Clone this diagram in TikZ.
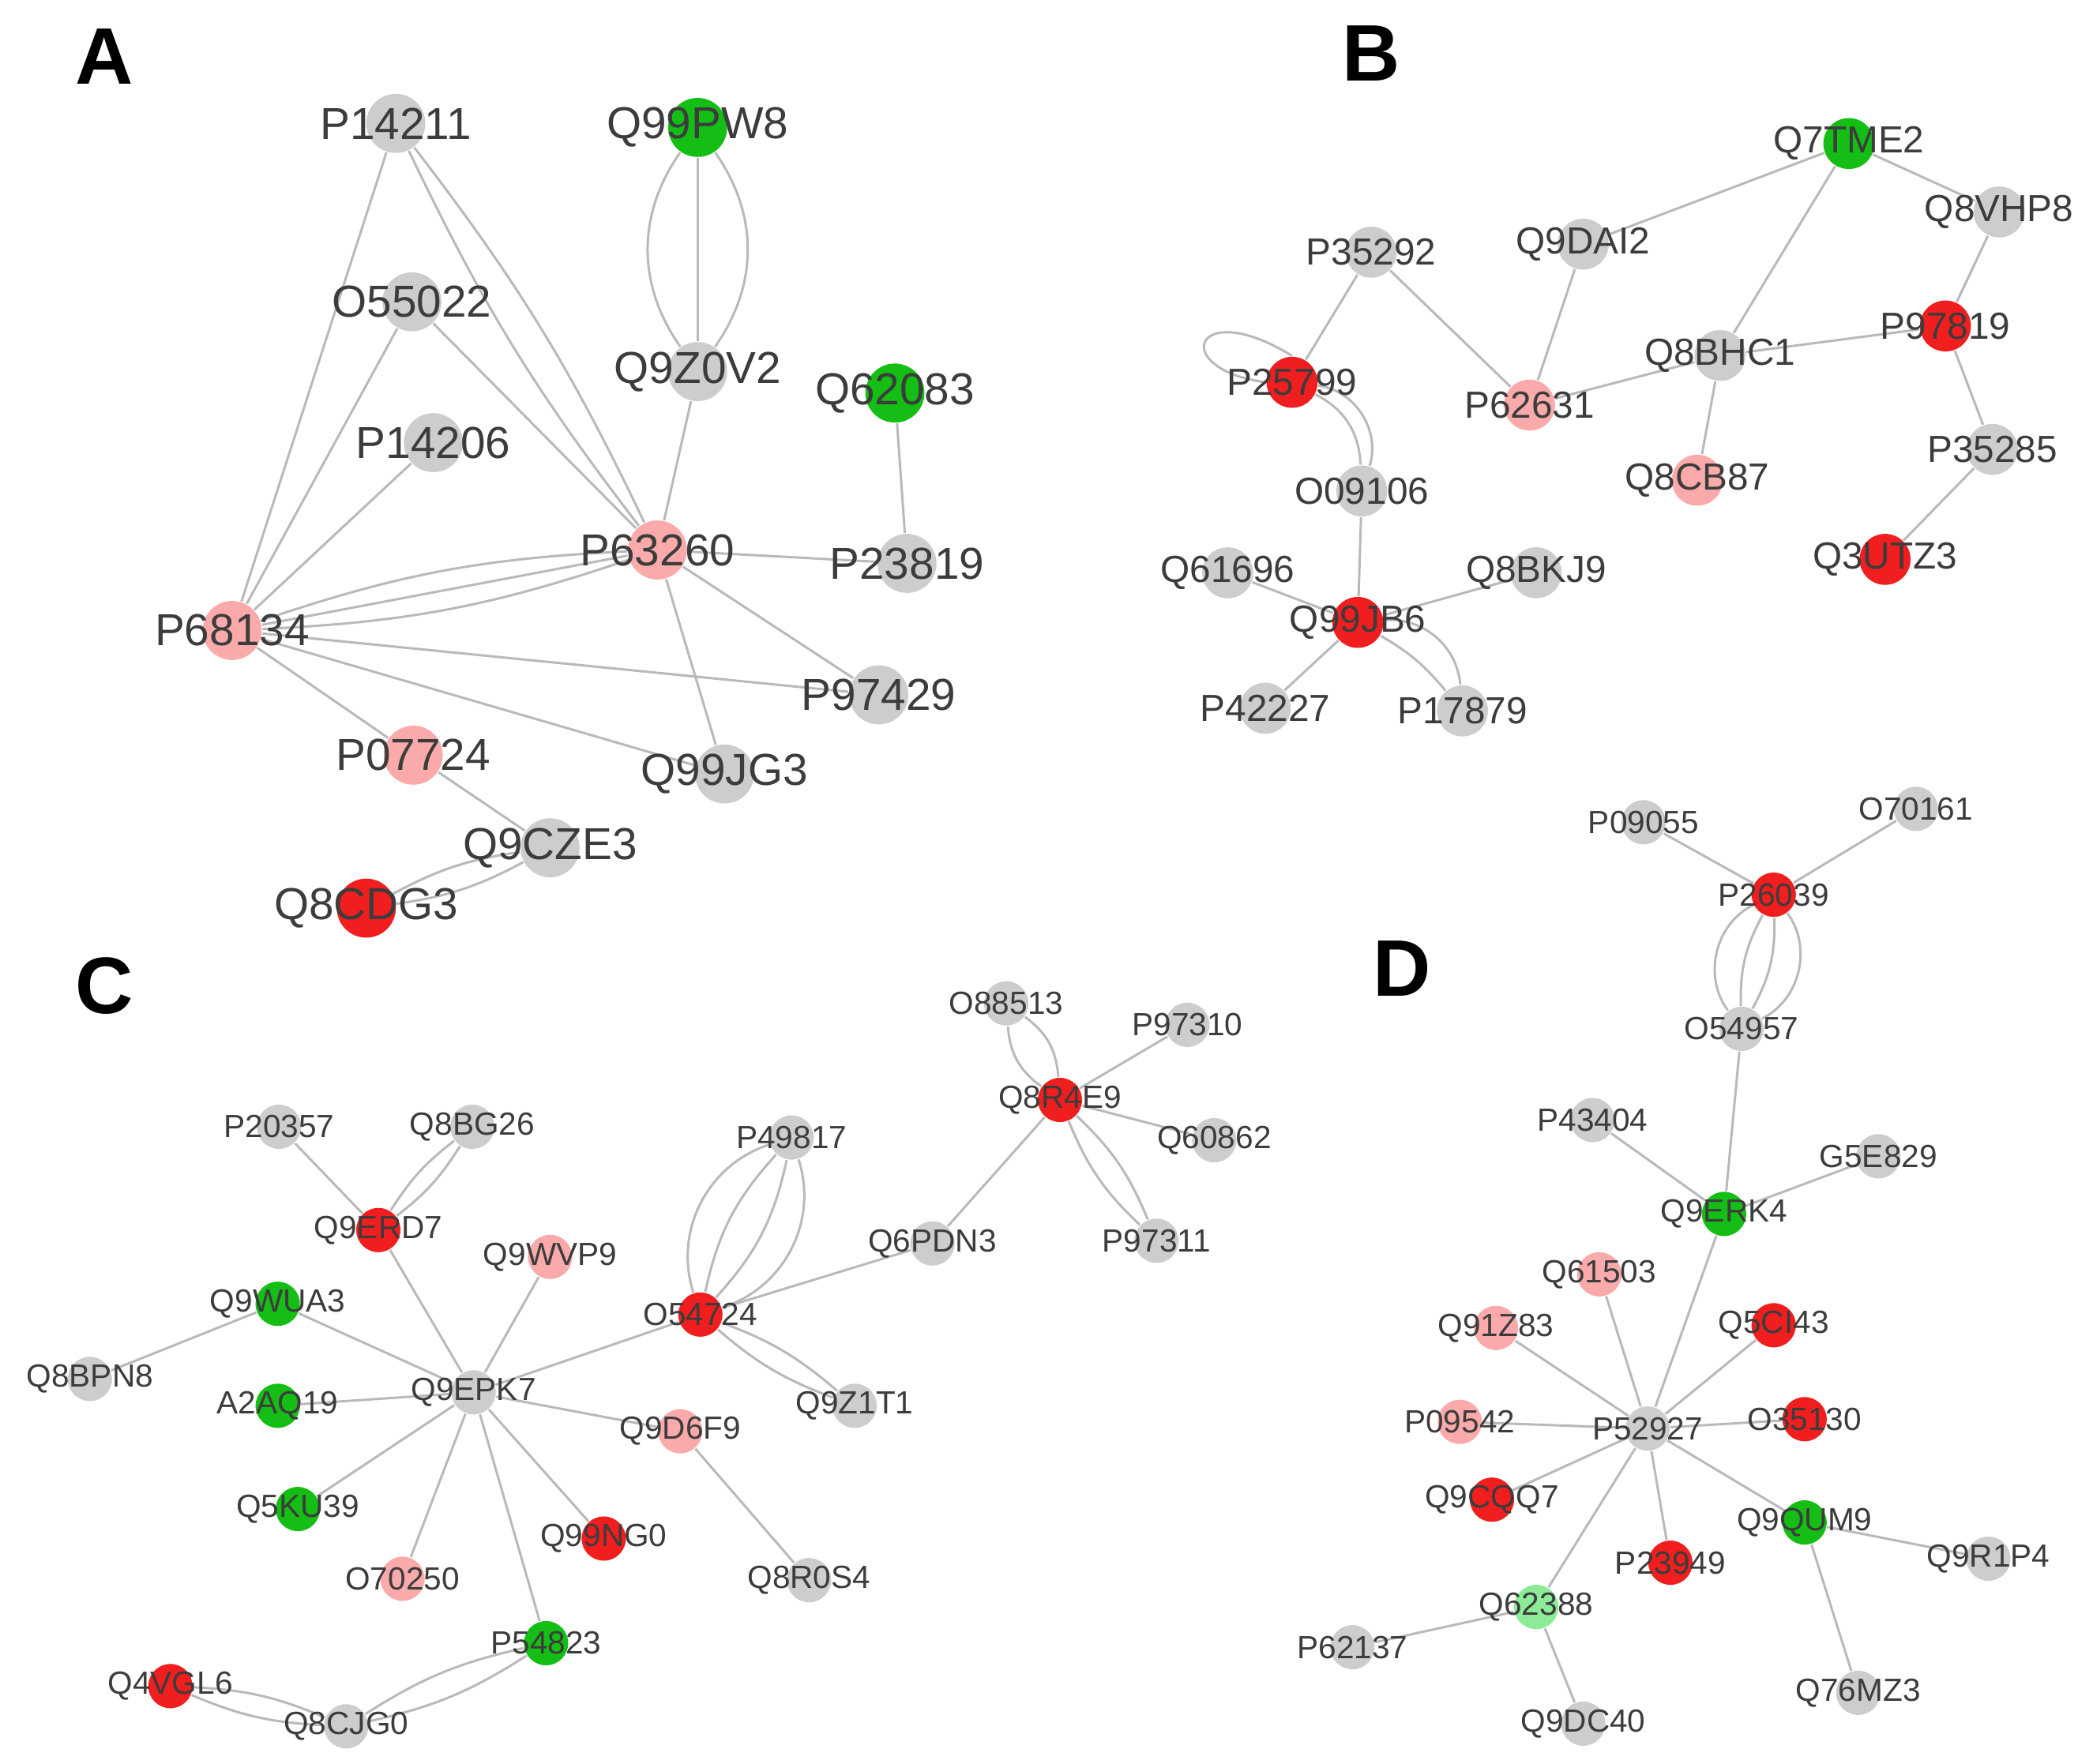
\documentclass[tikz,border=0pt]{standalone}
\usepackage{fontspec}
\setmainfont{Liberation Sans}
\usetikzlibrary{backgrounds}
\definecolor{gn}{RGB}{205,205,205}
\definecolor{pk}{RGB}{250,170,170}
\definecolor{rd}{RGB}{240,30,30}
\definecolor{grn}{RGB}{20,190,20}
\definecolor{lgr}{RGB}{140,235,150}
\definecolor{edg}{RGB}{185,185,185}
\definecolor{txt}{RGB}{60,60,60}
\tikzset{e/.style={draw=edg,line width=0.5pt},
 pA/.style={circle,inner sep=0pt,minimum size=0.44cm},
 pB/.style={circle,inner sep=0pt,minimum size=0.38cm},
 pC/.style={circle,inner sep=0pt,minimum size=0.33cm},
 panel/.style={font=\bfseries\fontsize{17}{17}\selectfont}}
\newcommand{\pn}[5]{\node[#5,fill=#4] (#1) at (#2/100,-#3/100) {};}
\newcommand{\lb}[2]{\node[text=txt,font=\fontsize{#2}{#2}\selectfont,inner sep=0] at (#1) {#1};}
\begin{document}
\begin{tikzpicture}
\useasboundingbox (0,0) rectangle (15.6,-13.15);
\node[panel] at (0.78,-0.42) {A};
\node[panel] at (10.22,-0.40) {B};
\node[panel] at (0.78,-7.35) {C};
\node[panel] at (10.45,-7.22) {D};
% A
\pn{P14211}{295}{92}{gn}{pA}\pn{Q99PW8}{520}{95}{grn}{pA}\pn{O55022}{307}{225}{gn}{pA}
\pn{Q9Z0V2}{520}{277}{gn}{pA}\pn{Q62083}{667}{293}{grn}{pA}\pn{P14206}{323}{330}{gn}{pA}
\pn{P63260}{490}{410}{pk}{pA}\pn{P23819}{676}{420}{gn}{pA}\pn{P68134}{173}{470}{pk}{pA}
\pn{P97429}{655}{518}{gn}{pA}\pn{P07724}{308}{563}{pk}{pA}\pn{Q99JG3}{540}{577}{gn}{pA}
\pn{Q9CZE3}{410}{632}{gn}{pA}\pn{Q8CDG3}{273}{677}{rd}{pA}
% B
\pn{Q7TME2}{1378}{107}{grn}{pB}\pn{Q8VHP8}{1490}{158}{gn}{pB}\pn{P35292}{1022}{188}{gn}{pB}
\pn{Q9DAI2}{1180}{182}{gn}{pB}\pn{P25799}{963}{285}{rd}{pB}\pn{P62631}{1140}{302}{pk}{pB}
\pn{Q8BHC1}{1282}{265}{gn}{pB}\pn{P97819}{1450}{243}{rd}{pB}\pn{Q8CB87}{1265}{358}{pk}{pB}
\pn{P35285}{1485}{335}{gn}{pB}\pn{O09106}{1015}{366}{gn}{pB}\pn{Q3UTZ3}{1405}{417}{rd}{pB}
\pn{Q61696}{915}{427}{gn}{pB}\pn{Q8BKJ9}{1145}{427}{gn}{pB}\pn{Q99JB6}{1012}{464}{rd}{pB}
\pn{P42227}{943}{528}{gn}{pB}\pn{P17879}{1090}{530}{gn}{pB}
% C
\pn{O88513}{750}{748}{gn}{pC}\pn{P97310}{885}{764}{gn}{pC}\pn{Q8R4E9}{790}{820}{rd}{pC}
\pn{Q60862}{905}{850}{gn}{pC}\pn{P20357}{208}{840}{gn}{pC}\pn{Q8BG26}{352}{840}{gn}{pC}
\pn{P49817}{590}{848}{gn}{pC}\pn{P97311}{862}{925}{gn}{pC}\pn{Q9ERD7}{282}{917}{rd}{pC}
\pn{Q9WVP9}{410}{937}{pk}{pC}\pn{Q6PDN3}{695}{927}{gn}{pC}\pn{Q9WUA3}{207}{972}{grn}{pC}
\pn{O54724}{522}{980}{rd}{pC}\pn{Q8BPN8}{67}{1028}{gn}{pC}\pn{A2AQ19}{207}{1048}{grn}{pC}
\pn{Q9EPK7}{353}{1038}{gn}{pC}\pn{Q9Z1T1}{637}{1048}{gn}{pC}\pn{Q9D6F9}{507}{1067}{pk}{pC}
\pn{Q5KU39}{222}{1125}{grn}{pC}\pn{Q99NG0}{450}{1147}{rd}{pC}\pn{O70250}{300}{1177}{pk}{pC}
\pn{Q8R0S4}{603}{1178}{gn}{pC}\pn{P54823}{407}{1225}{grn}{pC}\pn{Q4VGL6}{127}{1257}{rd}{pC}
\pn{Q8CJG0}{258}{1287}{gn}{pC}
% D
\pn{P09055}{1225}{613}{gn}{pC}\pn{O70161}{1428}{603}{gn}{pC}\pn{P26039}{1322}{667}{rd}{pC}
\pn{O54957}{1298}{767}{gn}{pC}\pn{P43404}{1187}{835}{gn}{pC}\pn{G5E829}{1400}{862}{gn}{pC}
\pn{Q9ERK4}{1285}{905}{grn}{pC}\pn{Q61503}{1192}{950}{pk}{pC}\pn{Q91Z83}{1115}{990}{pk}{pC}
\pn{Q5CI43}{1322}{988}{rd}{pC}\pn{P09542}{1088}{1060}{pk}{pC}\pn{P52927}{1228}{1065}{gn}{pC}
\pn{O35130}{1345}{1058}{rd}{pC}\pn{Q9CQQ7}{1112}{1118}{rd}{pC}\pn{Q9QUM9}{1345}{1135}{grn}{pC}
\pn{P23949}{1245}{1165}{rd}{pC}\pn{Q9R1P4}{1482}{1162}{gn}{pC}\pn{Q62388}{1145}{1198}{lgr}{pC}
\pn{P62137}{1008}{1228}{gn}{pC}\pn{Q9DC40}{1180}{1285}{gn}{pC}\pn{Q76MZ3}{1385}{1262}{gn}{pC}
\begin{scope}[on background layer]
\fill[white] (0,0) rectangle (15.6,-13.15);
% A edges
\draw[e] (P14211)--(P68134);
\draw[e] (P14211) to[bend left=6] (P63260);
\draw[e] (P14211) to[bend right=6] (P63260);
\draw[e] (O55022)--(P68134); \draw[e] (O55022)--(P63260);
\draw[e] (P14206)--(P68134);
\draw[e] (P68134)--(P63260);
\draw[e] (P68134) to[bend left=8] (P63260);
\draw[e] (P68134) to[bend right=8] (P63260);
\draw[e] (Q99PW8)--(Q9Z0V2);
\draw[e] (Q99PW8) to[bend left=35] (Q9Z0V2);
\draw[e] (Q99PW8) to[bend right=35] (Q9Z0V2);
\draw[e] (Q9Z0V2)--(P63260); \draw[e] (Q62083)--(P23819);
\draw[e] (P63260)--(P23819); \draw[e] (P63260)--(P97429); \draw[e] (P63260)--(Q99JG3);
\draw[e] (P68134)--(P97429); \draw[e] (P68134)--(Q99JG3); \draw[e] (P68134)--(P07724);
\draw[e] (P07724)--(Q9CZE3);
\draw[e] (Q9CZE3) to[bend left=10] (Q8CDG3); \draw[e] (Q9CZE3) to[bend right=10] (Q8CDG3);
% B edges
\draw[e] (Q7TME2)--(Q9DAI2); \draw[e] (Q7TME2)--(Q8VHP8); \draw[e] (Q7TME2)--(Q8BHC1);
\draw[e] (Q8VHP8)--(P97819); \draw[e] (P97819)--(Q8BHC1); \draw[e] (P97819)--(P35285);
\draw[e] (P35285)--(Q3UTZ3); \draw[e] (Q8BHC1)--(P62631); \draw[e] (Q8BHC1)--(Q8CB87);
\draw[e] (Q9DAI2)--(P62631); \draw[e] (P35292)--(P62631); \draw[e] (P35292)--(P25799);
\draw[e] (P25799.west) .. controls (8.7,-2.75) and (8.9,-2.2) .. (P25799.north);
\draw[e] (P25799) to[bend left=30] (O09106); \draw[e] (P25799) to[bend left=50] (O09106);
\draw[e] (O09106)--(Q99JB6); \draw[e] (Q99JB6)--(Q61696); \draw[e] (Q99JB6)--(Q8BKJ9);
\draw[e] (Q99JB6)--(P42227);
\draw[e] (Q99JB6) to[bend left=10] (P17879); \draw[e] (Q99JB6) to[bend left=45] (P17879);
% C edges
\draw[e] (O88513) to[bend left=25] (Q8R4E9); \draw[e] (O88513) to[bend right=25] (Q8R4E9);
\draw[e] (P97310)--(Q8R4E9); \draw[e] (Q60862)--(Q8R4E9);
\draw[e] (P97311) to[bend left=12] (Q8R4E9); \draw[e] (P97311) to[bend right=12] (Q8R4E9);
\draw[e] (Q8R4E9)--(Q6PDN3); \draw[e] (Q6PDN3)--(O54724);
\draw[e] (P49817) to[bend left=15] (O54724); \draw[e] (P49817) to[bend right=15] (O54724);
\draw[e] (P49817) to[bend left=45] (O54724); \draw[e] (P49817) to[bend right=45] (O54724);
\draw[e] (O54724) to[bend left=10] (Q9Z1T1); \draw[e] (O54724) to[bend right=10] (Q9Z1T1);
\draw[e] (O54724)--(Q9EPK7); \draw[e] (P20357)--(Q9ERD7);
\draw[e] (Q8BG26) to[bend left=10] (Q9ERD7); \draw[e] (Q8BG26) to[bend right=10] (Q9ERD7);
\foreach \n in {Q9ERD7,Q9WVP9,Q9WUA3,A2AQ19,Q5KU39,Q9D6F9,Q99NG0,O70250,P54823}
  \draw[e] (\n)--(Q9EPK7);
\draw[e] (Q8BPN8)--(Q9WUA3); \draw[e] (Q9D6F9)--(Q8R0S4);
\draw[e] (P54823) to[bend left=10] (Q8CJG0); \draw[e] (P54823) to[bend right=10] (Q8CJG0);
\draw[e] (Q8CJG0) to[bend left=10] (Q4VGL6); \draw[e] (Q8CJG0) to[bend right=10] (Q4VGL6);
% D edges
\draw[e] (P09055)--(P26039); \draw[e] (O70161)--(P26039);
\draw[e] (P26039) to[bend left=15] (O54957); \draw[e] (P26039) to[bend right=15] (O54957);
\draw[e] (P26039) to[bend left=50] (O54957); \draw[e] (P26039) to[bend right=50] (O54957);
\draw[e] (O54957)--(Q9ERK4); \draw[e] (P43404)--(Q9ERK4); \draw[e] (G5E829)--(Q9ERK4);
\draw[e] (Q9ERK4)--(P52927);
\foreach \n in {Q61503,Q91Z83,Q5CI43,P09542,O35130,Q9CQQ7,Q9QUM9,P23949,Q62388}
  \draw[e] (\n)--(P52927);
\draw[e] (Q9QUM9)--(Q9R1P4); \draw[e] (Q9QUM9)--(Q76MZ3);
\draw[e] (Q62388)--(P62137); \draw[e] (Q62388)--(Q9DC40);
\end{scope}
\foreach \n in {P14211,Q99PW8,O55022,Q9Z0V2,Q62083,P14206,P63260,P23819,P68134,P97429,P07724,Q99JG3,Q9CZE3,Q8CDG3}{\lb{\n}{9.5}}
\foreach \n in {Q7TME2,Q8VHP8,P35292,Q9DAI2,P25799,P62631,Q8BHC1,P97819,Q8CB87,P35285,O09106,Q3UTZ3,Q61696,Q8BKJ9,Q99JB6,P42227,P17879}{\lb{\n}{8}}
\foreach \n in {O88513,P97310,Q8R4E9,Q60862,P20357,Q8BG26,P49817,P97311,Q9ERD7,Q9WVP9,Q6PDN3,Q9WUA3,O54724,Q8BPN8,A2AQ19,Q9EPK7,Q9Z1T1,Q9D6F9,Q5KU39,Q99NG0,O70250,Q8R0S4,P54823,Q4VGL6,Q8CJG0,P09055,O70161,P26039,O54957,P43404,G5E829,Q9ERK4,Q61503,Q91Z83,Q5CI43,P09542,P52927,O35130,Q9CQQ7,Q9QUM9,P23949,Q9R1P4,Q62388,P62137,Q9DC40,Q76MZ3}{\lb{\n}{6.8}}
\end{tikzpicture}
\end{document}
